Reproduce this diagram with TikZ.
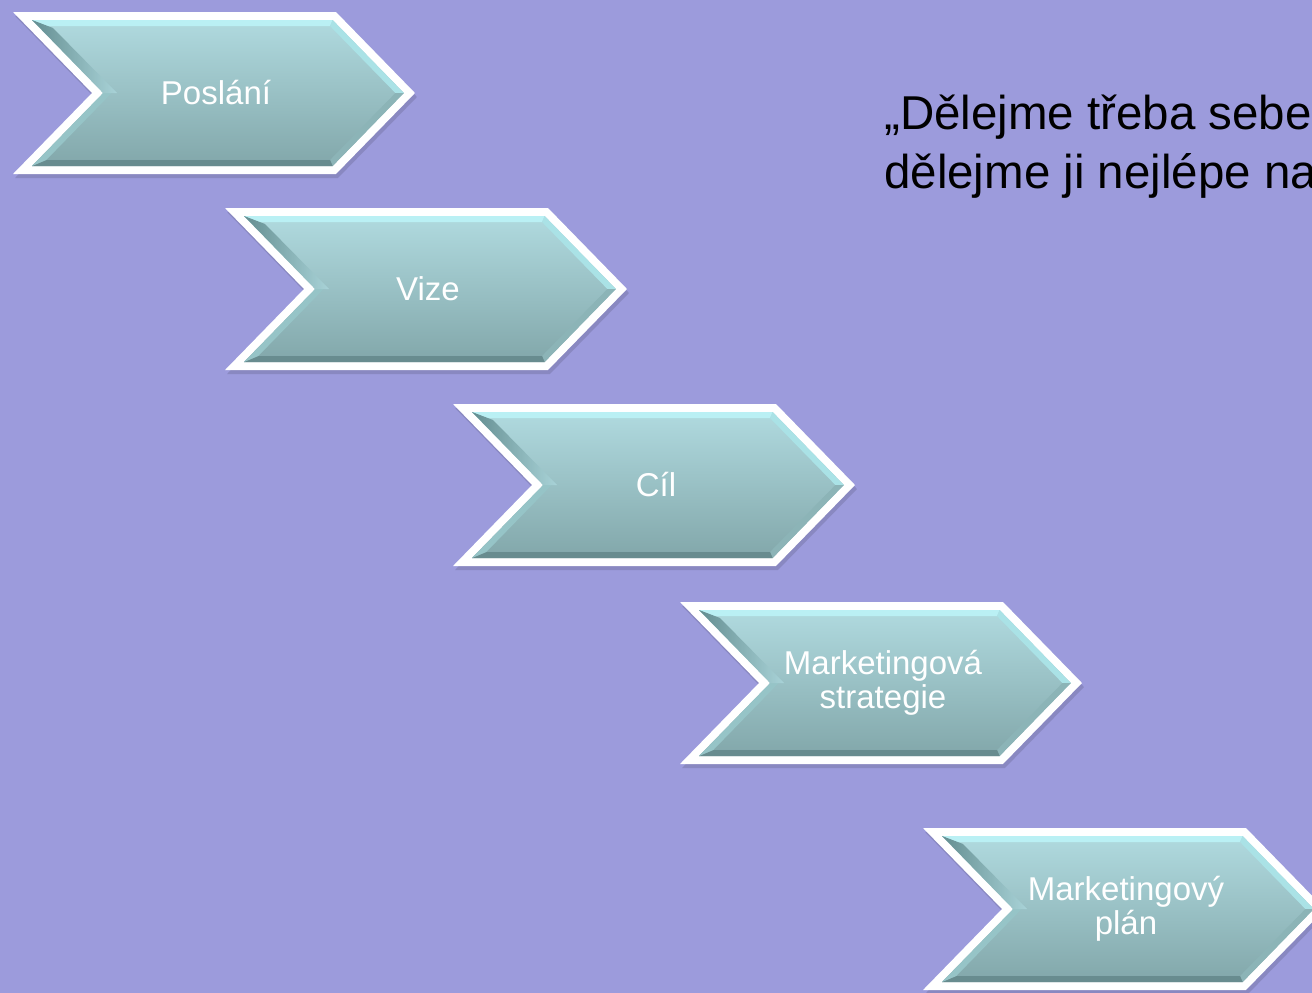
\documentclass[tikz,border=0pt]{standalone}
\usepackage{fontspec}
\setmainfont{Liberation Sans}
\definecolor{bgc}{RGB}{156,155,220}
\definecolor{tealtop}{RGB}{176,218,223}
\definecolor{tealmid}{RGB}{158,200,204}
\definecolor{tealbot}{RGB}{130,167,170}
\definecolor{bevtop}{RGB}{186,240,244}
\definecolor{bevur}{RGB}{170,226,230}
\definecolor{bevlr}{RGB}{140,180,183}
\definecolor{bevbot}{RGB}{104,140,143}
\definecolor{bevll}{RGB}{150,196,199}
\definecolor{bevul}{RGB}{100,142,145}
\tikzset{
  lbl/.style={text=white, font=\fontsize{33}{34}\selectfont, align=center, inner sep=0pt},
  quotetext/.style={text=black, font=\fontsize{47.5}{58}\selectfont, anchor=base west, inner sep=0pt},
  whiteedge/.style={draw=white, line width=16pt, line join=miter, miter limit=10},
  softshadow/.style={draw=black!60!bgc, fill=black!60!bgc, line width=16pt, line join=miter, miter limit=10, opacity=0.2},
}
\newcommand\chevpath[1]{({2.375*#1},{#1}) -- ({323-0.425*#1},{#1}) -- ({402-1.4*#1},81) -- ({323-0.425*#1},{162-#1}) -- ({2.375*#1},{162-#1}) -- ({79+1.4*#1},81) -- cycle}
\newcommand\mychevron[4]{%
  \begin{scope}[shift={(#1,#2)}]
    \path[softshadow, shift={(2,4)}] \chevpath{8};
    \path[whiteedge] \chevpath{8};
    \shade[top color=tealtop, middle color=tealmid, bottom color=tealbot] \chevpath{8};
    \fill[bevtop] (19,8) -- (319.6,8) -- (317.05,14) -- (33.25,14) -- cycle;
    \fill[bevur] (319.6,8) -- (390.8,81) -- (382.4,81) -- (317.05,14) -- cycle;
    \fill[bevlr] (390.8,81) -- (319.6,154) -- (317.05,148) -- (382.4,81) -- cycle;
    \fill[bevbot] (319.6,154) -- (19,154) -- (33.25,148) -- (317.05,148) -- cycle;
    \fill[bevll] (19,154) -- (90.2,81) -- (98.6,81) -- (33.25,148) -- cycle;
    \shade[left color=bevul, right color=tealtop!90!bevul] (90.2,81) -- (19,8) -- (40,16) -- (104,81) -- cycle;
    \node[lbl] (#3) at (203,81) {#4};
  \end{scope}}
\begin{document}
\begin{tikzpicture}[x=1pt,y=-1pt]
  \useasboundingbox (0,0) rectangle (1312,993);
  \clip (0,0) rectangle (1312,993);
  \fill[bgc] (0,0) rectangle (1312,993);
  \mychevron{13}{12}{poslani}{Poslání}
  \mychevron{225}{208}{vize}{Vize}
  \mychevron{453}{404}{cil}{Cíl}
  \mychevron{680}{602}{strategie}{Marketingová\\strategie}
  \mychevron{923}{828}{plan}{Marketingový\\plán}
  \node[quotetext] (quote1) at (884,129) {„Dělejme třeba sebe};
  \node[quotetext] (quote2) at (884,188) {dělejme ji nejlépe na};
\end{tikzpicture}
\end{document}
